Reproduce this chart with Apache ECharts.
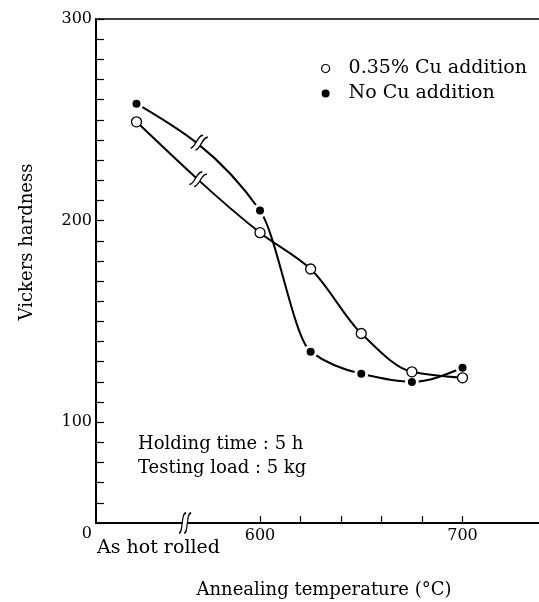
<!DOCTYPE html>
<html>
<head>
<meta charset="utf-8">
<title>Vickers hardness vs annealing temperature</title>
<script src="https://cdn.jsdelivr.net/npm/echarts@6/dist/echarts.min.js"></script>
<style>
  html, body { margin: 0; padding: 0; background: #fff; }
  #main { width: 539px; height: 602px; }
</style>
</head>
<body>
<div id="main"></div>
<script>
// x conditions; the as-rolled state has no temperature, so it sits left of the
// axis break at a placeholder position on the temperature scale
var conditions = ['As hot rolled', '600', '625', '650', '675', '700'];
var xPositions = [539, 600, 625, 650, 675, 700];

var cuAdded = [249, 194, 176, 144, 125, 122];   // 0.35% Cu addition
var noCu = [258, 205, 135, 124, 120, 127];      // No Cu addition

var yTickLabels = [100, 200, 300];
var xTickLabels = [600, 700];
var xTicks = [600, 620, 640, 660, 680, 700];

// where the breaks are drawn (data units)
var axisBreak = [563, 50];
var cuBreak = [569.5, 220.5];
var noCuBreak = [570, 238.7];

var FONT = '"DejaVu Serif", "Liberation Serif", serif';

function pairs(vals) {
  return vals.map(function (v, i) { return [xPositions[i], v]; });
}

// monotone cubic through the pixel points (hand drawn look of the original)
function tangents(p) {
  var n = p.length, d = [], h = [], m = [];
  for (var i = 0; i < n - 1; i++) {
    h[i] = p[i + 1][0] - p[i][0];
    d[i] = (p[i + 1][1] - p[i][1]) / h[i];
  }
  for (var j = 1; j < n - 1; j++) {
    if (d[j - 1] * d[j] <= 0) { m[j] = 0; continue; }
    var w1 = 2 * h[j] + h[j - 1], w2 = h[j] + 2 * h[j - 1];
    m[j] = (w1 + w2) / (w1 / d[j - 1] + w2 / d[j]);
  }
  m[0] = (3 * d[0] - m[1]) / 2;
  m[n - 1] = (3 * d[n - 2] - m[n - 2]) / 2;
  return m;
}

function curveRenderer(vals) {
  return function (params, api) {
    var i = params.dataIndex;
    if (i >= vals.length - 1) return;
    var pts = vals.map(function (v, k) { return api.coord([xPositions[k], v]); });
    var m = tangents(pts);
    var a = pts[i], b = pts[i + 1], h = (b[0] - a[0]) / 3;
    return {
      type: 'bezierCurve',
      shape: {
        x1: a[0], y1: a[1], x2: b[0], y2: b[1],
        cpx1: a[0] + h, cpy1: a[1] + m[i] * h,
        cpx2: b[0] - h, cpy2: b[1] - m[i + 1] * h
      },
      style: { fill: 'none', stroke: '#000', lineWidth: 2 }
    };
  };
}

// two S strokes, and the white patch between them that cuts the line
var breakStroke = 'path://M0,20C5,20 2,0 8,0M6,20C11,20 8,0 14,0';
var breakPatch = 'path://M0,20C5,20 2,0 8,0L14,0C8,0 11,20 6,20Z';

function breakMark(coord, size, rot) {
  return [
    { coord: coord, symbol: breakPatch, symbolSize: size, symbolRotate: rot,
      itemStyle: { color: '#fff', borderWidth: 0 } },
    { coord: coord, symbol: breakStroke, symbolSize: size, symbolRotate: rot,
      itemStyle: { color: 'rgba(0,0,0,0)', borderColor: '#000', borderWidth: 1.5 } }
  ];
}

var chart = echarts.init(document.getElementById('main'));

var option = {
  animation: false,
  backgroundColor: '#fff',
  grid: {
    left: 96, top: 19, width: 488, height: 504,
    outerBoundsMode: 'none',
    show: true, borderColor: '#000', borderWidth: 1.5
  },
  legend: {
    orient: 'vertical',
    left: 316, top: 54,
    itemWidth: 36, itemHeight: 8, itemGap: 6,
    textStyle: { fontFamily: FONT, fontSize: 19, color: '#000' },
    data: [
      { name: '0.35% Cu addition', icon: 'circle',
        itemStyle: { color: '#fff', borderColor: '#000', borderWidth: 1.2 } },
      { name: 'No Cu addition', icon: 'circle',
        itemStyle: { color: '#000', borderWidth: 0 } }
    ]
  },
  xAxis: {
    type: 'value',
    min: 519, max: 760,
    axisLine: { lineStyle: { color: '#000', width: 2 } },
    axisTick: { inside: true, length: 7, customValues: xTicks, lineStyle: { color: '#000', width: 1.2 } },
    axisLabel: {
      customValues: xTickLabels, margin: 5,
      fontFamily: FONT, fontSize: 16, color: '#000'
    },
    splitLine: { show: false }
  },
  yAxis: {
    type: 'value',
    min: 50, max: 300, interval: 10,
    axisLine: { show: true, lineStyle: { color: '#000', width: 2 } },
    axisTick: { show: true, inside: true, length: 8, lineStyle: { color: '#000', width: 1.2 } },
    axisLabel: {
      margin: 4, fontFamily: FONT, fontSize: 16, color: '#000',
      showMinLabel: true,
      formatter: function (v) {
        if (v === 50) return '{z|0}';
        return yTickLabels.indexOf(v) >= 0 ? String(v) : '';
      },
      rich: { z: { fontFamily: FONT, fontSize: 16, color: '#000', padding: [22, 0, 0, 0] } }
    },
    splitLine: { show: false }
  },
  series: [
    {
      name: 'cu-curve', type: 'custom',
      data: pairs(cuAdded), encode: { x: 0, y: 1 },
      renderItem: curveRenderer(cuAdded),
      silent: true, z: 2
    },
    {
      name: 'nocu-curve', type: 'custom',
      data: pairs(noCu), encode: { x: 0, y: 1 },
      renderItem: curveRenderer(noCu),
      silent: true, z: 2
    },
    {
      name: 'No Cu addition',
      type: 'scatter',
      data: pairs(noCu),
      symbol: 'circle', symbolSize: 11,
      itemStyle: { color: '#000', borderColor: '#fff', borderWidth: 3, opacity: 1 },
      emphasis: { disabled: true },
      z: 3,
      markPoint: {
        label: { show: false },
        data: breakMark(noCuBreak, [12, 16], -22).concat(breakMark(axisBreak, [12, 20], 0))
      }
    },
    {
      name: '0.35% Cu addition',
      type: 'scatter',
      data: pairs(cuAdded),
      symbol: 'circle', symbolSize: 10,
      itemStyle: { color: '#fff', borderColor: '#000', borderWidth: 1.3, opacity: 1 },
      emphasis: { disabled: true },
      z: 4,
      markPoint: {
        label: { show: false },
        data: breakMark(cuBreak, [12, 16], -24)
      }
    }
  ],
  graphic: [
    { type: 'text', left: 138, top: 435,
      style: { text: 'Holding time : 5 h', font: '18px ' + FONT, fill: '#000' } },
    { type: 'text', left: 138, top: 459,
      style: { text: 'Testing load : 5 kg', font: '18px ' + FONT, fill: '#000' } },
    { type: 'text', left: 97, top: 539,
      style: { text: conditions[0], font: '19px ' + FONT, fill: '#000' } },
    { type: 'text', x: 27, y: 242, rotation: Math.PI / 2,
      style: { text: 'Vickers hardness', font: '18px ' + FONT, fill: '#000',
               textAlign: 'center', textVerticalAlign: 'middle' } },
    { type: 'text', x: 324, y: 590,
      style: { text: 'Annealing temperature (°C)', font: '18px ' + FONT, fill: '#000',
               textAlign: 'center', textVerticalAlign: 'middle' } }
  ]
};

chart.setOption(option);
</script>
</body>
</html>
